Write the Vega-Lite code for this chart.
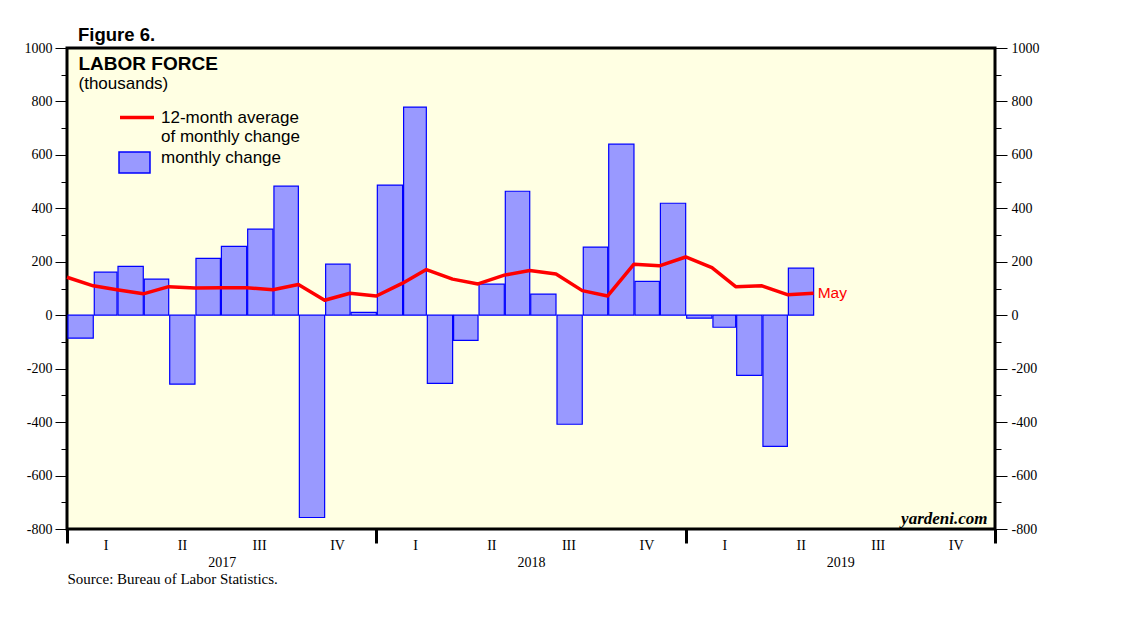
{
  "$schema": "https://vega.github.io/schema/vega-lite/v6.json",
  "width": 928,
  "height": 481,
  "autosize": {"type": "none"},
  "padding": {"left": 67, "top": 48, "right": 143, "bottom": 92},
  "background": "white",
  "config": {
    "view": {"fill": "#ffffe3", "stroke": "#000000", "strokeWidth": 3},
    "axis": {"labelFont": "Liberation Serif", "labelFontSize": 14, "labelColor": "#000000", "tickColor": "#000000", "domain": false, "grid": false, "titleColor": "#000000"}
  },
  "title": {"text": "Figure 6.", "anchor": "start", "frame": "group", "font": "Liberation Sans", "fontSize": 18.5, "fontWeight": "bold", "color": "#000000", "dx": 11, "dy": 30, "offset": 12, "baseline": "alphabetic"},
  "datasets": {
    "bars": [
      {"date": "2017-01-01", "change": -86},
      {"date": "2017-02-01", "change": 161},
      {"date": "2017-03-01", "change": 183},
      {"date": "2017-04-01", "change": 135},
      {"date": "2017-05-01", "change": -258},
      {"date": "2017-06-01", "change": 213},
      {"date": "2017-07-01", "change": 258},
      {"date": "2017-08-01", "change": 322},
      {"date": "2017-09-01", "change": 483},
      {"date": "2017-10-01", "change": -757},
      {"date": "2017-11-01", "change": 191},
      {"date": "2017-12-01", "change": 11},
      {"date": "2018-01-01", "change": 487},
      {"date": "2018-02-01", "change": 779},
      {"date": "2018-03-01", "change": -255},
      {"date": "2018-04-01", "change": -94},
      {"date": "2018-05-01", "change": 116},
      {"date": "2018-06-01", "change": 464},
      {"date": "2018-07-01", "change": 79},
      {"date": "2018-08-01", "change": -408},
      {"date": "2018-09-01", "change": 255},
      {"date": "2018-10-01", "change": 640},
      {"date": "2018-11-01", "change": 127},
      {"date": "2018-12-01", "change": 419},
      {"date": "2019-01-01", "change": -11},
      {"date": "2019-02-01", "change": -45},
      {"date": "2019-03-01", "change": -225},
      {"date": "2019-04-01", "change": -491},
      {"date": "2019-05-01", "change": 176}
    ],
    "avg": [
      {"date": "2016-12-01", "avg": 142},
      {"date": "2017-01-01", "avg": 110},
      {"date": "2017-02-01", "avg": 95},
      {"date": "2017-03-01", "avg": 80},
      {"date": "2017-04-01", "avg": 107},
      {"date": "2017-05-01", "avg": 102},
      {"date": "2017-06-01", "avg": 103},
      {"date": "2017-07-01", "avg": 103},
      {"date": "2017-08-01", "avg": 95},
      {"date": "2017-09-01", "avg": 115},
      {"date": "2017-10-01", "avg": 56},
      {"date": "2017-11-01", "avg": 82},
      {"date": "2017-12-01", "avg": 72},
      {"date": "2018-01-01", "avg": 120},
      {"date": "2018-02-01", "avg": 171},
      {"date": "2018-03-01", "avg": 135},
      {"date": "2018-04-01", "avg": 117},
      {"date": "2018-05-01", "avg": 150},
      {"date": "2018-06-01", "avg": 167},
      {"date": "2018-07-01", "avg": 154},
      {"date": "2018-08-01", "avg": 92},
      {"date": "2018-09-01", "avg": 72},
      {"date": "2018-10-01", "avg": 191},
      {"date": "2018-11-01", "avg": 185},
      {"date": "2018-12-01", "avg": 218},
      {"date": "2019-01-01", "avg": 178},
      {"date": "2019-02-01", "avg": 107},
      {"date": "2019-03-01", "avg": 110},
      {"date": "2019-04-01", "avg": 77},
      {"date": "2019-05-01", "avg": 82, "label": "May"}
    ]
  },
  "resolve": {"axis": {"x": "independent", "y": "independent"}},
  "layer": [
    {
      "data": {"name": "bars"},
      "mark": {"type": "bar", "stroke": "#0000ff", "strokeWidth": 1.2},
      "encoding": {
        "x": {
          "field": "date", "timeUnit": "utcyearmonth", "type": "temporal",
          "scale": {"type": "utc", "domain": [{"year": 2017, "month": 1, "date": 1, "utc": true}, {"year": 2020, "month": 1, "date": 1, "utc": true}]},
          "axis": {
            "orient": "bottom",
            "values": [{"year": 2017, "month": 1, "date": 1, "utc": true}, {"year": 2018, "month": 1, "date": 1, "utc": true}, {"year": 2019, "month": 1, "date": 1, "utc": true}, {"year": 2020, "month": 1, "date": 1, "utc": true}],
            "labels": false, "ticks": true, "tickSize": 14, "tickWidth": 3,
            "title": "yardeni.com", "titleX": 920, "titleY": -6, "titleAlign": "right", "titleBaseline": "alphabetic", "titleAnchor": null,
            "titleFont": "Liberation Serif", "titleFontStyle": "italic", "titleFontWeight": "bold", "titleFontSize": 17
          }
        },
        "y": {
          "field": "change", "type": "quantitative",
          "scale": {"domain": [-800, 1000], "nice": false, "zero": false},
          "axis": {
            "orient": "left",
            "values": [-800, -600, -400, -200, 0, 200, 400, 600, 800, 1000],
            "labelExpr": "'' + datum.value",
            "tickSize": 12, "labelPadding": 3,
            "title": "LABOR FORCE", "titleX": 11, "titleY": 21, "titleAngle": 0, "titleAlign": "left", "titleBaseline": "alphabetic",
            "titleFont": "Liberation Sans", "titleFontSize": 19, "titleFontWeight": "bold"
          }
        },
        "fill": {
          "datum": "monthly change", "type": "nominal",
          "scale": {"range": ["#9999ff"]},
          "legend": {
            "orient": "none", "legendX": 51, "legendY": 98, "title": null, "padding": 0,
            "symbolType": "M-1,-0.677H1V0.677H-1Z", "symbolSize": 961,
            "symbolStrokeColor": "#0000ff", "symbolStrokeWidth": 1.5,
            "labelFont": "Liberation Sans", "labelFontSize": 17, "labelColor": "#000000", "labelOffset": 10, "labelBaseline": "alphabetic"
          }
        }
      }
    },
    {
      "mark": {"type": "rule", "color": "#000000", "strokeWidth": 1.5},
      "encoding": {
        "y": {
          "datum": 0, "type": "quantitative",
          "scale": {"domain": [-800, 1000], "nice": false, "zero": false},
          "axis": {"orient": "left", "values": [-700, -500, -300, -100, 100, 300, 500, 700, 900], "labels": false, "tickSize": 6, "title": null}
        }
      }
    },
    {
      "data": {"name": "avg"},
      "mark": {"type": "line", "strokeWidth": 3.5, "strokeJoin": "round"},
      "encoding": {
        "x": {
          "field": "date", "timeUnit": "utcyearmonth", "type": "temporal", "bandPosition": 1,
          "scale": {"type": "utc", "domain": [{"year": 2017, "month": 1, "date": 1, "utc": true}, {"year": 2020, "month": 1, "date": 1, "utc": true}]},
          "axis": {
            "orient": "bottom",
            "values": [
              {"year": 2017, "month": 1, "date": 1, "utc": true}, {"year": 2017, "month": 4, "date": 1, "utc": true}, {"year": 2017, "month": 7, "date": 1, "utc": true}, {"year": 2017, "month": 10, "date": 1, "utc": true},
              {"year": 2018, "month": 1, "date": 1, "utc": true}, {"year": 2018, "month": 4, "date": 1, "utc": true}, {"year": 2018, "month": 7, "date": 1, "utc": true}, {"year": 2018, "month": 10, "date": 1, "utc": true},
              {"year": 2019, "month": 1, "date": 1, "utc": true}, {"year": 2019, "month": 4, "date": 1, "utc": true}, {"year": 2019, "month": 7, "date": 1, "utc": true}, {"year": 2019, "month": 10, "date": 1, "utc": true}
            ],
            "ticks": false, "labelOffset": 38.7, "labelPadding": 9, "labelBaseline": "top",
            "labelFlush": false, "labelOverlap": false, "labelBound": false,
            "labelExpr": "['I','II','III','IV'][utcquarter(datum.value) - 1]",
            "title": null
          }
        },
        "y": {
          "field": "avg", "type": "quantitative",
          "scale": {"domain": [-800, 1000], "nice": false, "zero": false},
          "axis": {
            "orient": "right",
            "values": [-800, -600, -400, -200, 0, 200, 400, 600, 800, 1000],
            "labelExpr": "'' + datum.value",
            "tickSize": 12, "labelPadding": 4,
            "title": "(thousands)", "titleX": -917, "titleY": 40, "titleAngle": 0, "titleAlign": "left", "titleBaseline": "alphabetic",
            "titleFont": "Liberation Sans", "titleFontSize": 17, "titleFontWeight": "normal"
          }
        },
        "stroke": {
          "datum": "12-month average of monthly change", "type": "nominal",
          "scale": {"range": ["#ff0000"]},
          "legend": {
            "orient": "none", "legendX": 51, "legendY": 50.5, "title": null, "padding": 0,
            "symbolType": "stroke", "symbolSize": 1156, "symbolStrokeWidth": 3.5, "symbolFillColor": "transparent",
            "labelExpr": "['12-month average', 'of monthly change']",
            "labelFont": "Liberation Sans", "labelFontSize": 17, "labelColor": "#000000", "labelOffset": 5, "labelBaseline": "middle"
          }
        }
      }
    },
    {
      "data": {"name": "avg"},
      "transform": [{"filter": "isValid(datum.label)"}],
      "mark": {"type": "text", "align": "left", "baseline": "middle", "dx": 4, "color": "#ff0000", "font": "Liberation Sans", "fontSize": 15.5},
      "encoding": {
        "x": {
          "field": "date", "timeUnit": "utcyearmonth", "type": "temporal", "bandPosition": 1,
          "scale": {"type": "utc", "domain": [{"year": 2017, "month": 1, "date": 1, "utc": true}, {"year": 2020, "month": 1, "date": 1, "utc": true}]},
          "axis": {
            "orient": "bottom",
            "values": [{"year": 2017, "month": 1, "date": 1, "utc": true}, {"year": 2018, "month": 1, "date": 1, "utc": true}, {"year": 2019, "month": 1, "date": 1, "utc": true}],
            "ticks": false, "labelOffset": 154.7, "labelPadding": 26, "labelBaseline": "top",
            "labelFlush": false, "labelOverlap": false, "labelBound": false,
            "labelExpr": "utcFormat(datum.value, '%Y')",
            "title": "Source: Bureau of Labor Statistics.", "titleX": 0, "titleY": 54, "titleAlign": "left", "titleBaseline": "alphabetic", "titleAnchor": null,
            "titleFont": "Liberation Serif", "titleFontSize": 15, "titleFontWeight": "normal"
          }
        },
        "y": {
          "field": "avg", "type": "quantitative",
          "scale": {"domain": [-800, 1000], "nice": false, "zero": false},
          "axis": {"orient": "right", "values": [-700, -500, -300, -100, 100, 300, 500, 700, 900], "labels": false, "tickSize": 6, "title": null}
        },
        "text": {"field": "label"}
      }
    }
  ]
}
